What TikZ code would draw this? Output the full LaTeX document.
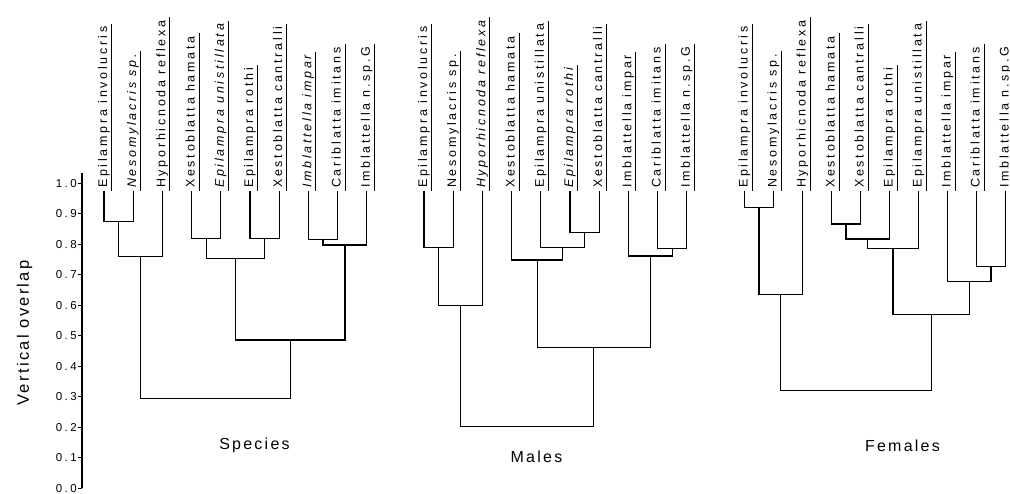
\documentclass[tikz,border=0pt]{standalone}
\usepackage{fontspec}
\setmainfont{Liberation Sans}
\newfontfamily\taxonfont[LetterSpace=22]{Liberation Sans}
\newfontfamily\titlefont[LetterSpace=14]{Liberation Sans}
\newfontfamily\tickfont[LetterSpace=22]{Liberation Sans}
\usepackage{tikz}

\begin{document}
\begin{tikzpicture}[
    x=1pt, y=305pt,
    taxon/.style={rotate=90, anchor=west, inner xsep=0pt, inner ysep=1.5pt,
        outer xsep=3pt, outer ysep=0pt, text height=9pt, text depth=3pt,
        font=\taxonfont\fontsize{12.5}{14}\selectfont,
        append after command={(\tikzlastnode.south west) edge[uline] (\tikzlastnode.south east)}},
    uline/.style={draw, line width=0.9pt},
    branch/.style={draw, line width=1.25pt},
    title/.style={inner sep=0pt, font=\titlefont\fontsize{16}{18}\selectfont},
    ticklabel/.style={anchor=east, inner sep=0pt, font=\tickfont\fontsize{11.5}{13}\selectfont}
]
\useasboundingbox (0,-0.018) rectangle (1010,1.6016);

% axis
\draw[line width=1.1pt] (82,0) -- (82,1.034);
\foreach \t [count=\k] in {0.0,0.1,0.2,0.3,0.4,0.5,0.6,0.7,0.8,0.9,1.0} {
    \draw[line width=1pt] (77.5,\t) -- (82,\t);
    \node[ticklabel] (tk\k) at (77,\t) {\t};
}
\node[title, rotate=90, font=\titlefont\fontsize{16.5}{18}\selectfont] (ylab) at (24.5,0.51) {Vertical overlap};

% Species
\node[taxon] (s1) at (104,0.9754) {Epilampra involucris};
\node[taxon] (s2) at (133.2,0.9754) {\itshape Nesomylacris sp.};
\node[taxon] (s3) at (162.4,0.9754) {Hyporhicnoda reflexa};
\node[taxon] (s4) at (191.6,0.9754) {Xestoblatta hamata};
\node[taxon] (s5) at (220.8,0.9754) {\itshape Epilampra unistillata};
\node[taxon] (s6) at (250,0.9754) {Epilampra rothi};
\node[taxon] (s7) at (279.2,0.9754) {Xestoblatta cantralli};
\node[taxon] (s8) at (308.4,0.9754) {\itshape Imblattella impar};
\node[taxon] (s9) at (337.6,0.9754) {Cariblatta imitans};
\node[taxon] (s10) at (366.8,0.9754) {Imblattella n.sp.G};

\coordinate (sA) at (118.6,0.875);
\coordinate (sB) at (140.5,0.760);
\coordinate (sC) at (206.2,0.820);
\coordinate (sD) at (264.6,0.820);
\coordinate (sE) at (235.4,0.755);
\coordinate (sF) at (323.0,0.817);
\coordinate (sG) at (344.9,0.798);
\coordinate (sH) at (290.2,0.487);
\coordinate (sI) at (215.4,0.296);

\draw[branch] (s1.west) |- (sA) -| (s2.west);
\draw[branch] (sA) |- (sB) -| (s3.west);
\draw[branch] (s4.west) |- (sC) -| (s5.west);
\draw[branch] (s6.west) |- (sD) -| (s7.west);
\draw[branch] (sC) |- (sE) -| (sD);
\draw[branch] (s8.west) |- (sF) -| (s9.west);
\draw[branch] (sF) |- (sG) -| (s10.west);
\draw[branch] (sE) |- (sH) -| (sG);
\draw[branch] (sB) |- (sI) -| (sH);

\node[title] (tspecies) at (254.5,0.143) {Species};

% Males
\node[taxon] (m1) at (424,0.9754) {Epilampra involucris};
\node[taxon] (m2) at (453.2,0.9754) {Nesomylacris sp.};
\node[taxon] (m3) at (482.4,0.9754) {\itshape Hyporhicnoda reflexa};
\node[taxon] (m4) at (511.6,0.9754) {Xestoblatta hamata};
\node[taxon] (m5) at (540.8,0.9754) {Epilampra unistillata};
\node[taxon] (m6) at (570,0.9754) {\itshape Epilampra rothi};
\node[taxon] (m7) at (599.2,0.9754) {Xestoblatta cantralli};
\node[taxon] (m8) at (628.4,0.9754) {Imblattella impar};
\node[taxon] (m9) at (657.6,0.9754) {Cariblatta imitans};
\node[taxon] (m10) at (686.8,0.9754) {Imblattella n.sp.G};

\coordinate (mA) at (438.6,0.790);
\coordinate (mB) at (460.5,0.599);
\coordinate (mC) at (584.6,0.839);
\coordinate (mD) at (562.7,0.791);
\coordinate (mE) at (537.2,0.749);
\coordinate (mF) at (672.2,0.788);
\coordinate (mG) at (650.3,0.762);
\coordinate (mH) at (593.8,0.462);
\coordinate (mI) at (527.1,0.203);

\draw[branch] (m1.west) |- (mA) -| (m2.west);
\draw[branch] (mA) |- (mB) -| (m3.west);
\draw[branch] (m6.west) |- (mC) -| (m7.west);
\draw[branch] (m5.west) |- (mD) -| (mC);
\draw[branch] (m4.west) |- (mE) -| (mD);
\draw[branch] (m9.west) |- (mF) -| (m10.west);
\draw[branch] (m8.west) |- (mG) -| (mF);
\draw[branch] (mE) |- (mH) -| (mG);
\draw[branch] (mB) |- (mI) -| (mH);

\node[title] (tmales) at (536.5,0.103) {Males};

% Females
\node[taxon] (f1) at (744.5,0.9754) {Epilampra involucris};
\node[taxon] (f2) at (773.5,0.9754) {Nesomylacris sp.};
\node[taxon] (f3) at (802.5,0.9754) {Hyporhicnoda reflexa};
\node[taxon] (f4) at (831.5,0.9754) {Xestoblatta hamata};
\node[taxon] (f5) at (860.5,0.9754) {Xestoblatta cantralli};
\node[taxon] (f6) at (889.5,0.9754) {Epilampra rothi};
\node[taxon] (f7) at (918.5,0.9754) {Epilampra unistillata};
\node[taxon] (f8) at (947.5,0.9754) {Imblattella impar};
\node[taxon] (f9) at (976.5,0.9754) {Cariblatta imitans};
\node[taxon] (f10) at (1005.5,0.9754) {Imblattella n.sp.G};

\coordinate (fA) at (759,0.922);
\coordinate (fB) at (780.75,0.637);
\coordinate (fC) at (846,0.867);
\coordinate (fD) at (867.75,0.818);
\coordinate (fE) at (893.1,0.788);
\coordinate (fF) at (991,0.727);
\coordinate (fG) at (969.25,0.678);
\coordinate (fH) at (931.2,0.571);
\coordinate (fI) at (856,0.321);

\draw[branch] (f1.west) |- (fA) -| (f2.west);
\draw[branch] (fA) |- (fB) -| (f3.west);
\draw[branch] (f4.west) |- (fC) -| (f5.west);
\draw[branch] (fC) |- (fD) -| (f6.west);
\draw[branch] (fD) |- (fE) -| (f7.west);
\draw[branch] (f9.west) |- (fF) -| (f10.west);
\draw[branch] (f8.west) |- (fG) -| (fF);
\draw[branch] (fE) |- (fH) -| (fG);
\draw[branch] (fB) |- (fI) -| (fH);

\node[title] (tfemales) at (902.5,0.1415) {Females};
\end{tikzpicture}
\end{document}
